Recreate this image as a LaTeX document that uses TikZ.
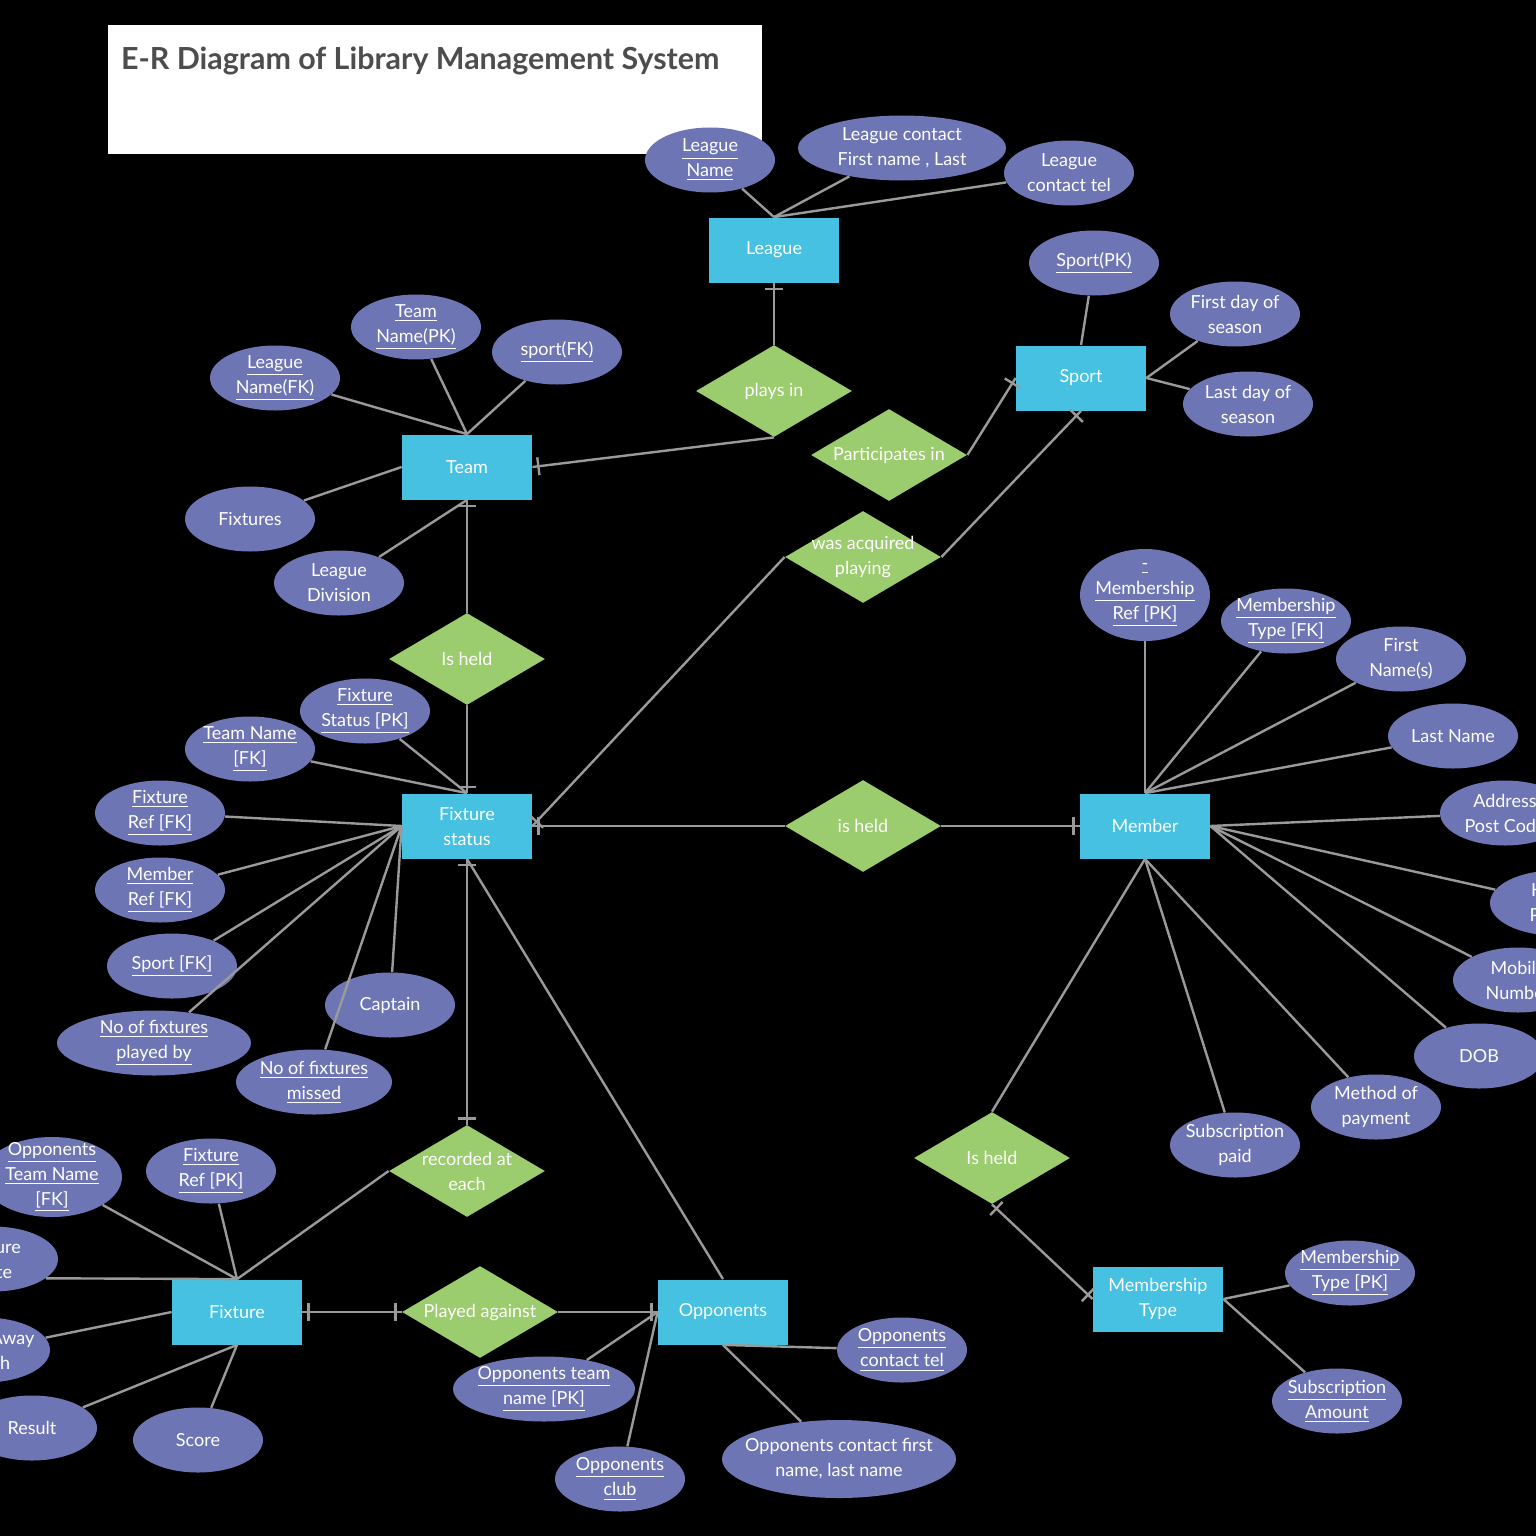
\documentclass[tikz,border=0pt]{standalone}
\usepackage{fontspec}
\setmainfont{Lato}
\usetikzlibrary{shapes.geometric,decorations.markings}

\definecolor{entc}{HTML}{46C1E1}
\definecolor{attc}{HTML}{6E75B4}
\definecolor{relc}{HTML}{9BCC6E}
\definecolor{linec}{HTML}{9A9A9A}
\definecolor{titlec}{HTML}{4D4D4D}

\newcommand{\uln}[1]{\underline{#1}}

\tikzset{
  txt/.style={text=white, font=\fontsize{9}{12.5}\selectfont, align=center, inner sep=0pt},
  entity/.style={rectangle, fill=entc, minimum width=65pt, minimum height=32.5pt, inner sep=0pt, txt},
  attr/.style={ellipse, fill=attc, minimum width=65pt, minimum height=32.5pt, inner sep=0pt},
  rel/.style={diamond, fill=relc, minimum width=78pt, minimum height=46pt, inner sep=0pt},
  conn/.style={draw=linec, line width=1.2pt},
  barmark/.style={draw=linec, line width=1.2pt},
  onestart/.style={postaction={decorate, decoration={markings,
      mark=at position 3pt with {\draw[barmark] (0,-4.5pt) -- (0,4.5pt);}}}},
  oneend/.style={postaction={decorate, decoration={markings,
      mark=at position -3pt with {\draw[barmark] (0,-4.5pt) -- (0,4.5pt);}}}},
  oneboth/.style={postaction={decorate, decoration={markings,
      mark=at position 3pt with {\draw[barmark] (0,-4.5pt) -- (0,4.5pt);},
      mark=at position -3pt with {\draw[barmark] (0,-4.5pt) -- (0,4.5pt);}}}}
}

\begin{document}
\begin{tikzpicture}[x=0.5pt, y=-0.5pt]
  \useasboundingbox (0,0) rectangle (1536,1536);
  \fill[black] (0,0) rectangle (1536,1536);

  % title
  \fill[white] (108,25) rectangle (762,154);
  \node[anchor=west, text=titlec, font=\fontsize{15.2}{18}\selectfont\bfseries] (title) at (114,61) {E-R Diagram of Library Management System};

  % entities
  \node[entity] (league) at (774,250) {League};
  \node[entity] (sport) at (1081,378) {Sport};
  \node[entity] (team) at (467,467) {Team};
  \node[entity] (fxstat) at (467,826) {Fixture\\status};
  \node[entity] (member) at (1145,826) {Member};
  \node[entity] (fixture) at (237,1312) {Fixture};
  \node[entity] (opp) at (723,1312) {Opponents};
  \node[entity] (mtype) at (1158,1299) {Membership\\Type};

  % relationships
  \node[rel, label={[txt]center:plays in}] (playsin) at (774,391) {};
  \node[rel, label={[txt]center:Participates in}] (partin) at (889,455) {};
  \node[rel, label={[txt]center:{was acquired\\playing}}] (acq) at (863,557) {};
  \node[rel, label={[txt]center:Is held}] (heldteam) at (467,659) {};
  \node[rel, label={[txt]center:is held}] (heldmem) at (863,826) {};
  \node[rel, label={[txt]center:Is held}] (heldtype) at (992,1158) {};
  \node[rel, label={[txt]center:{recorded at\\each}}] (recat) at (467,1171) {};
  \node[rel, label={[txt]center:Played against}] (played) at (480,1312) {};

  % league attributes
  \node[attr, label={[txt]center:{\uln{League}\\\uln{Name}}}] (lgname) at (710,160) {};
  \node[attr, minimum width=104pt, label={[txt]center:{League contact\\First name , Last}}] (lgcontact) at (902,148) {};
  \node[attr, label={[txt]center:{League\\contact tel}}] (lgtel) at (1069,173) {};

  % sport attributes
  \node[attr, label={[txt]center:{\uln{Sport(PK)}}}] (sportpk) at (1094,263) {};
  \node[attr, label={[txt]center:{First day of\\season}}] (firstday) at (1235,314) {};
  \node[attr, label={[txt]center:{Last day of\\season}}] (lastday) at (1248,404) {};

  % team attributes
  \node[attr, label={[txt]center:{\uln{Team}\\\uln{Name(PK)}}}] (tmname) at (416,327) {};
  \node[attr, label={[txt]center:{\uln{sport(FK)}}}] (tmsport) at (557,352) {};
  \node[attr, label={[txt]center:{\uln{League}\\\uln{Name(FK)}}}] (tmleague) at (275,378) {};
  \node[attr, label={[txt]center:Fixtures}] (tmfix) at (250,519) {};
  \node[attr, label={[txt]center:{League\\Division}}] (tmdiv) at (339,583) {};

  % fixture status attributes
  \node[attr, label={[txt]center:{\uln{Fixture}\\\uln{Status [PK]}}}] (fspk) at (365,711) {};
  \node[attr, label={[txt]center:{\uln{Team Name}\\\uln{[FK]}}}] (fsteam) at (250,749) {};
  \node[attr, label={[txt]center:{\uln{Fixture}\\\uln{Ref [FK]}}}] (fsfix) at (160,813) {};
  \node[attr, label={[txt]center:{\uln{Member}\\\uln{Ref [FK]}}}] (fsmem) at (160,890) {};
  \node[attr, label={[txt]center:{\uln{Sport [FK]}}}] (fssport) at (172,966) {};
  \node[attr, minimum width=97pt, label={[txt]center:{\uln{No of fixtures}\\\uln{played by}}}] (fsplayed) at (154,1043) {};
  \node[attr, minimum width=78pt, label={[txt]center:{\uln{No of fixtures}\\\uln{missed}}}] (fsmissed) at (314,1082) {};
  \node[attr, label={[txt]center:Captain}] (fscapt) at (390,1005) {};

  % member attributes
  \node[attr, minimum height=46pt, label={[txt]center:{\uln{-}\\\uln{Membership}\\\uln{Ref [PK]}}}] (mbref) at (1145,595) {};
  \node[attr, label={[txt]center:{\uln{Membership}\\\uln{Type [FK]}}}] (mbtype) at (1286,621) {};
  \node[attr, label={[txt]center:{First\\Name(s)}}] (mbfirst) at (1401,659) {};
  \node[attr, label={[txt]center:Last Name}] (mblast) at (1453,736) {};
  \node[attr, label={[txt]center:{Address\\Post Code}}] (mbaddr) at (1505,813) {};
  \node[attr, label={[txt]center:{Home\\Phone}}] (mbhome) at (1555,903) {};
  \node[attr, label={[txt]center:{Mobile\\Number}}] (mbmob) at (1518,980) {};
  \node[attr, label={[txt]center:DOB}] (mbdob) at (1479,1056) {};
  \node[attr, label={[txt]center:{Method of\\payment}}] (mbpay) at (1376,1107) {};
  \node[attr, label={[txt]center:{Subscription\\paid}}] (mbsub) at (1235,1145) {};

  % membership type attributes
  \node[attr, label={[txt]center:{\uln{Membership}\\\uln{Type [PK]}}}] (mtpk) at (1350,1273) {};
  \node[attr, label={[txt]center:{\uln{Subscription}\\\uln{Amount}}}] (mtamt) at (1337,1401) {};

  % opponents attributes
  \node[attr, label={[txt]center:{\uln{Opponents}\\\uln{contact tel}}}] (optel) at (902,1350) {};
  \node[attr, minimum width=91pt, label={[txt]center:{\uln{Opponents team}\\\uln{name [PK]}}}] (opname) at (544,1389) {};
  \node[attr, label={[txt]center:{\uln{Opponents}\\\uln{club}}}] (opclub) at (620,1479) {};
  \node[attr, minimum width=117pt, minimum height=39pt, label={[txt]center:{Opponents contact first\\name, last name}}] (opcontact) at (839,1459) {};

  % fixture attributes
  \node[attr, minimum width=70pt, minimum height=40pt, label={[txt]center:{\uln{Opponents}\\\uln{Team Name}\\\uln{[FK]}}}] (fxopp) at (52,1177) {};
  \node[attr, label={[txt]center:{\uln{Fixture}\\\uln{Ref [PK]}}}] (fxref) at (211,1171) {};
  \node[attr, label={[txt]center:{Fixture\\Date}}] (fxdate) at (-7,1259) {};
  \node[attr, label={[txt]center:{Home/Away\\Match}}] (fxhome) at (-15,1350) {};
  \node[attr, label={[txt]center:Result}] (fxres) at (32,1428) {};
  \node[attr, label={[txt]center:Score}] (fxscore) at (198,1440) {};

  % connectors: league
  \draw[conn] (lgname) -- (league.north);
  \draw[conn] (lgcontact) -- (league.north);
  \draw[conn] (lgtel) -- (league.north);
  \draw[conn, onestart] (league.south) -- (playsin.north);
  \draw[conn, oneend] (playsin.south) -- (team.east);

  % connectors: sport
  \draw[conn] (sportpk) -- (sport.north);
  \draw[conn] (firstday) -- (sport.east);
  \draw[conn] (lastday) -- (sport.east);
  \draw[conn, oneend] (partin.east) -- (sport.west);
  \draw[conn, oneend] (acq.east) -- (sport.south);
  \draw[conn, oneend] (acq.west) -- (fxstat.east);

  % connectors: team
  \draw[conn] (tmname) -- (team.north);
  \draw[conn] (tmsport) -- (team.north);
  \draw[conn] (tmleague) -- (team.north);
  \draw[conn] (tmfix) -- (team.west);
  \draw[conn] (tmdiv) -- (team.south);
  \draw[conn, onestart] (team.south) -- (heldteam.north);
  \draw[conn, oneend] (heldteam.south) -- (fxstat.north);

  % connectors: fixture status
  \draw[conn] (fspk) -- (fxstat.north);
  \draw[conn] (fsteam) -- (fxstat.north);
  \foreach \a in {fsfix, fsmem, fssport, fsplayed, fsmissed, fscapt}
    \draw[conn] (\a) -- (fxstat.west);
  \draw[conn, onestart] (fxstat.east) -- (heldmem.west);
  \draw[conn, oneend] (heldmem.east) -- (member.west);
  \draw[conn, oneboth] (fxstat.south) -- (recat.north);
  \draw[conn] (fxstat.south) -- (opp.north);

  % connectors: member
  \foreach \a in {mbref, mbtype, mbfirst, mblast}
    \draw[conn] (\a) -- (member.north);
  \foreach \a in {mbaddr, mbhome, mbmob, mbdob}
    \draw[conn] (\a) -- (member.east);
  \draw[conn] (mbpay) -- (member.south);
  \draw[conn] (mbsub) -- (member.south);
  \draw[conn] (member.south) -- (heldtype.north);
  \draw[conn, oneboth] (heldtype.south) -- (mtype.west);
  \draw[conn] (mtpk) -- (mtype.east);
  \draw[conn] (mtamt) -- (mtype.east);

  % connectors: fixture
  \draw[conn] (recat.west) -- (fixture.north);
  \draw[conn] (fxopp) -- (fixture.north);
  \draw[conn] (fxref) -- (fixture.north);
  \draw[conn] (fxdate.-20) -- (fixture.north);
  \draw[conn] (fxhome) -- (fixture.west);
  \draw[conn] (fxres) -- (fixture.south);
  \draw[conn] (fxscore) -- (fixture.south);
  \draw[conn, oneboth] (fixture.east) -- (played.west);
  \draw[conn, oneend] (played.east) -- (opp.west);

  % connectors: opponents
  \draw[conn] (opname) -- (opp.west);
  \draw[conn] (opclub) -- (opp.west);
  \draw[conn] (optel) -- (opp.south);
  \draw[conn] (opcontact) -- (opp.south);
\end{tikzpicture}
\end{document}
